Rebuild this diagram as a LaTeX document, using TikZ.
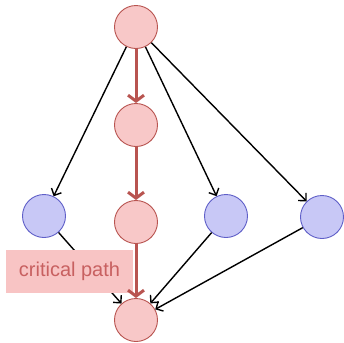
\documentclass[tikz,border=0pt]{standalone}
\usepackage{fontspec}
\setmainfont{Liberation Sans}
\usetikzlibrary{arrows.meta}
\definecolor{rfill}{RGB}{248,200,200}
\definecolor{rdraw}{RGB}{184,84,80}
\definecolor{bfill}{RGB}{200,200,246}
\definecolor{bdraw}{RGB}{95,95,200}
\definecolor{lblfill}{RGB}{248,196,196}
\definecolor{lbltext}{RGB}{200,96,96}
\begin{document}
\begin{tikzpicture}[x=1bp,y=-1bp,
  rnode/.style={circle,draw=rdraw,fill=rfill,line width=0.9bp,minimum size=43bp,inner sep=0pt},
  bnode/.style={circle,draw=bdraw,fill=bfill,line width=0.9bp,minimum size=43bp,inner sep=0pt},
  blk/.style={draw=black,line width=1.4bp,-{Straight Barb[length=5.5bp,width=11bp,line width=1.4bp]}},
  crit/.style={draw=rdraw,line width=3bp,-{Straight Barb[length=6bp,width=16bp,line width=3bp]}},
  lbl/.style={fill=lblfill,text=lbltext,font=\fontsize{20bp}{22bp}\selectfont,minimum width=127bp,minimum height=43bp,inner sep=0pt}]
\useasboundingbox (0,0) rectangle (344,343);
\node[rnode] (t) at (136,27) {};
\node[rnode] (m1) at (136,125) {};
\node[rnode] (m2) at (136,222) {};
\node[rnode] (b) at (136,320) {};
\node[bnode] (l) at (44,216) {};
\node[bnode] (c) at (226,216) {};
\node[bnode] (r) at (322,217) {};
\draw[blk] (t) -- (l);
\draw[blk] (t) -- (c);
\draw[blk] (t) -- (r);
\draw[blk] (l) -- (b);
\draw[blk] (c) -- (b);
\draw[blk] (r) -- (b);
\node[lbl] (cp) at (69.5,271.5) {critical path};
\draw[crit] (t) -- (m1);
\draw[crit] (m1) -- (m2);
\draw[crit] (m2) -- (b);
\end{tikzpicture}
\end{document}
